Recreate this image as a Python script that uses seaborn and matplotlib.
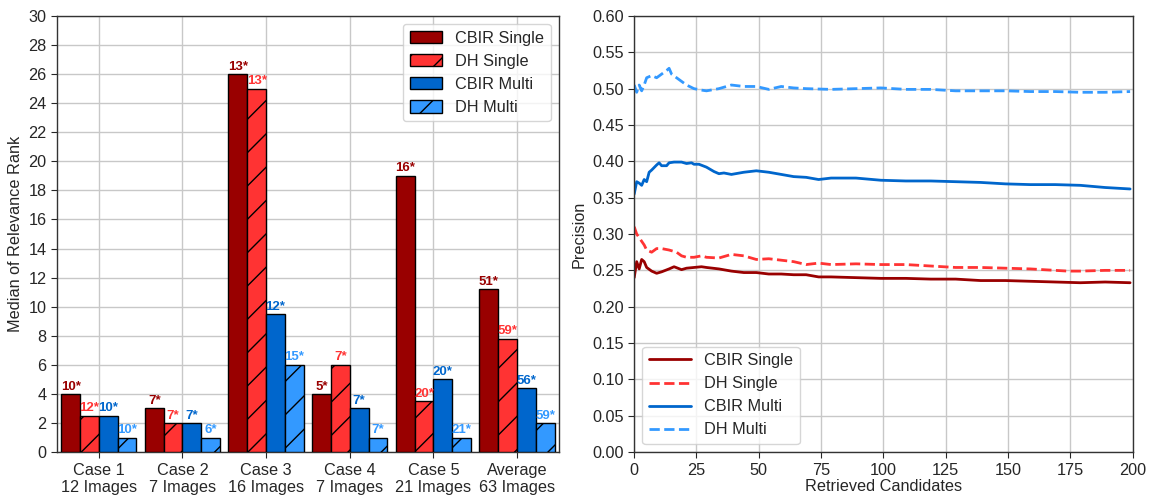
import matplotlib
matplotlib.use("Agg")
import matplotlib.pyplot as plt
import seaborn as sns
import pandas as pd
import numpy as np

sns.set_style("white")
plt.rcParams['font.family'] = ['Liberation Sans', 'DejaVu Sans']
plt.rcParams['hatch.linewidth'] = 1.0

FS = 11.7

# ---------------- data ----------------
categories = ["Case 1\n12 Images", "Case 2\n7 Images", "Case 3\n16 Images",
              "Case 4\n7 Images", "Case 5\n21 Images", "Average\n63 Images"]
series = ["CBIR Single", "DH Single", "CBIR Multi", "DH Multi"]
colors = ["#990000", "#ff3333", "#0066cc", "#3399ff"]

cbir_single = [4, 3, 26, 4, 19, 11.2]
dh_single = [2.5, 2, 25, 6, 3.5, 7.8]
cbir_multi = [2.5, 2, 9.5, 3, 5, 4.4]
dh_multi = [1, 1, 6, 1, 1, 2]

lab_cbir_single = ["10*", "7*", "13*", "5*", "16*", "51*"]
lab_dh_single = ["12*", "7*", "13*", "7*", "20*", "59*"]
lab_cbir_multi = ["10*", "7*", "12*", "7*", "20*", "56*"]
lab_dh_multi = ["10*", "6*", "15*", "7*", "21*", "59*"]

# precision curves (retrieved candidates k, precision)
k_cs = [0, 1, 2, 3, 4, 5, 7, 9, 11, 14, 16, 19, 21, 24, 27, 29, 34, 39, 44, 49, 54, 59, 64,
        69, 74, 79, 89, 99, 109, 119, 129, 139, 149, 159, 169, 179, 189, 199]
p_cs = [0.240, 0.262, 0.252, 0.265, 0.262, 0.254, 0.249, 0.246, 0.248, 0.252, 0.255, 0.251,
        0.253, 0.254, 0.255, 0.254, 0.252, 0.249, 0.247, 0.247, 0.245, 0.245, 0.244, 0.244,
        0.241, 0.241, 0.240, 0.239, 0.239, 0.238, 0.238, 0.236, 0.236, 0.235, 0.234, 0.233,
        0.234, 0.233]

k_ds = [0, 1, 2, 4, 5, 7, 9, 11, 14, 17, 19, 21, 24, 27, 29, 34, 39, 44, 49, 54, 59, 64,
        69, 74, 79, 89, 99, 109, 119, 129, 139, 149, 159, 169, 174, 179, 189, 199]
p_ds = [0.310, 0.300, 0.295, 0.285, 0.278, 0.275, 0.280, 0.280, 0.278, 0.275, 0.270, 0.268,
        0.268, 0.270, 0.268, 0.267, 0.272, 0.270, 0.265, 0.266, 0.264, 0.262, 0.258, 0.260,
        0.258, 0.259, 0.258, 0.258, 0.256, 0.254, 0.254, 0.253, 0.252, 0.250, 0.249, 0.249,
        0.250, 0.250]

k_cm = [0, 1, 2, 3, 4, 5, 6, 7, 9, 10, 11, 13, 14, 16, 19, 21, 23, 24, 26, 29, 32, 34, 36,
        39, 44, 49, 54, 59, 64, 69, 74, 79, 89, 99, 109, 119, 129, 139, 149, 159, 169, 179,
        189, 199]
p_cm = [0.355, 0.372, 0.370, 0.367, 0.375, 0.372, 0.385, 0.388, 0.395, 0.398, 0.394, 0.394,
        0.398, 0.399, 0.399, 0.397, 0.398, 0.396, 0.396, 0.392, 0.386, 0.383, 0.384, 0.382,
        0.385, 0.387, 0.385, 0.382, 0.379, 0.378, 0.375, 0.377, 0.377, 0.374, 0.373, 0.373,
        0.372, 0.371, 0.369, 0.368, 0.368, 0.367, 0.364, 0.362]

k_dm = [0, 1, 2, 3, 4, 5, 7, 9, 11, 13, 14, 15, 17, 19, 21, 24, 27, 29, 34, 39, 44, 49, 54,
        59, 64, 69, 79, 89, 99, 109, 119, 129, 139, 149, 159, 169, 179, 189, 199]
p_dm = [0.505, 0.495, 0.505, 0.497, 0.505, 0.515, 0.518, 0.515, 0.520, 0.525, 0.528, 0.520,
        0.515, 0.510, 0.505, 0.500, 0.498, 0.497, 0.500, 0.505, 0.503, 0.503, 0.499, 0.503,
        0.501, 0.500, 0.499, 0.500, 0.501, 0.499, 0.499, 0.497, 0.497, 0.497, 0.496, 0.496,
        0.495, 0.495, 0.496]

# ---------------- figure ----------------
fig = plt.figure(figsize=(11.51, 4.99), dpi=100)
ax1 = fig.add_axes([0.0495, 0.094, 0.436, 0.874])
ax2 = fig.add_axes([0.551, 0.094, 0.433, 0.874])

bar_vals = [cbir_single, dh_single, cbir_multi, dh_multi]
bar_labs = [lab_cbir_single, lab_dh_single, lab_cbir_multi, lab_dh_multi]
df = pd.DataFrame({
    "case": np.repeat([categories], 4, axis=0).ravel(),
    "series": np.repeat(series, len(categories)),
    "value": np.concatenate(bar_vals),
})
sns.barplot(data=df, x="case", y="value", hue="series", hue_order=series,
            palette=colors, width=0.9, edgecolor="black", linewidth=1.0,
            saturation=1, ax=ax1, zorder=3)
hatches = ["", "/", "", "/"]
for cont, h, labs, col in zip(ax1.containers, hatches, bar_labs, colors):
    for patch in cont:
        patch.set_hatch(h)
    ax1.bar_label(cont, labels=labs, color=col, fontsize=9.5, fontweight="bold", padding=1)

ax1.set_xlim(-0.5, 5.5)
ax1.set_ylim(0, 30)
ax1.set_yticks(np.arange(0, 31, 2))
ax1.set_xlabel("")
ax1.set_ylabel("Median of Relevance Rank", fontsize=FS)
ax1.tick_params(labelsize=FS, length=4, left=True, bottom=True)
ax1.grid(True, color="#c8c8c8", linewidth=1.0, zorder=0)
ax1.set_axisbelow(True)
leg1 = ax1.legend(loc="upper right", fontsize=FS, frameon=True, handlelength=2.0,
                  handleheight=0.8)
for hp, h in zip(leg1.get_patches(), hatches):
    hp.set_hatch(h)

styles = ["-", "--", "-", "--"]
curves = [(k_cs, p_cs), (k_ds, p_ds), (k_cm, p_cm), (k_dm, p_dm)]
for (kk, pp), name, col, ls in zip(curves, series, colors, styles):
    sns.lineplot(x=kk, y=pp, ax=ax2, color=col, linestyle=ls, linewidth=2, label=name)
ax2.set_xlim(0, 200)
ax2.set_ylim(0, 0.6)
ax2.set_xticks(np.arange(0, 201, 25))
ax2.set_yticks(np.arange(0, 0.601, 0.05))
ax2.yaxis.set_major_formatter(matplotlib.ticker.FormatStrFormatter("%.2f"))
ax2.set_xlabel("Retrieved Candidates", fontsize=FS, labelpad=1)
ax2.set_ylabel("Precision", fontsize=FS)
ax2.tick_params(labelsize=FS, length=4, left=True, bottom=True)
ax2.grid(True, color="#c8c8c8", linewidth=1.0)
ax2.legend(loc="lower left", fontsize=FS, frameon=True, handlelength=2.6)

for ax in (ax1, ax2):
    for s in ax.spines.values():
        s.set_color("#333333")
        s.set_linewidth(1.0)

fig.savefig("out.png", dpi=100)
